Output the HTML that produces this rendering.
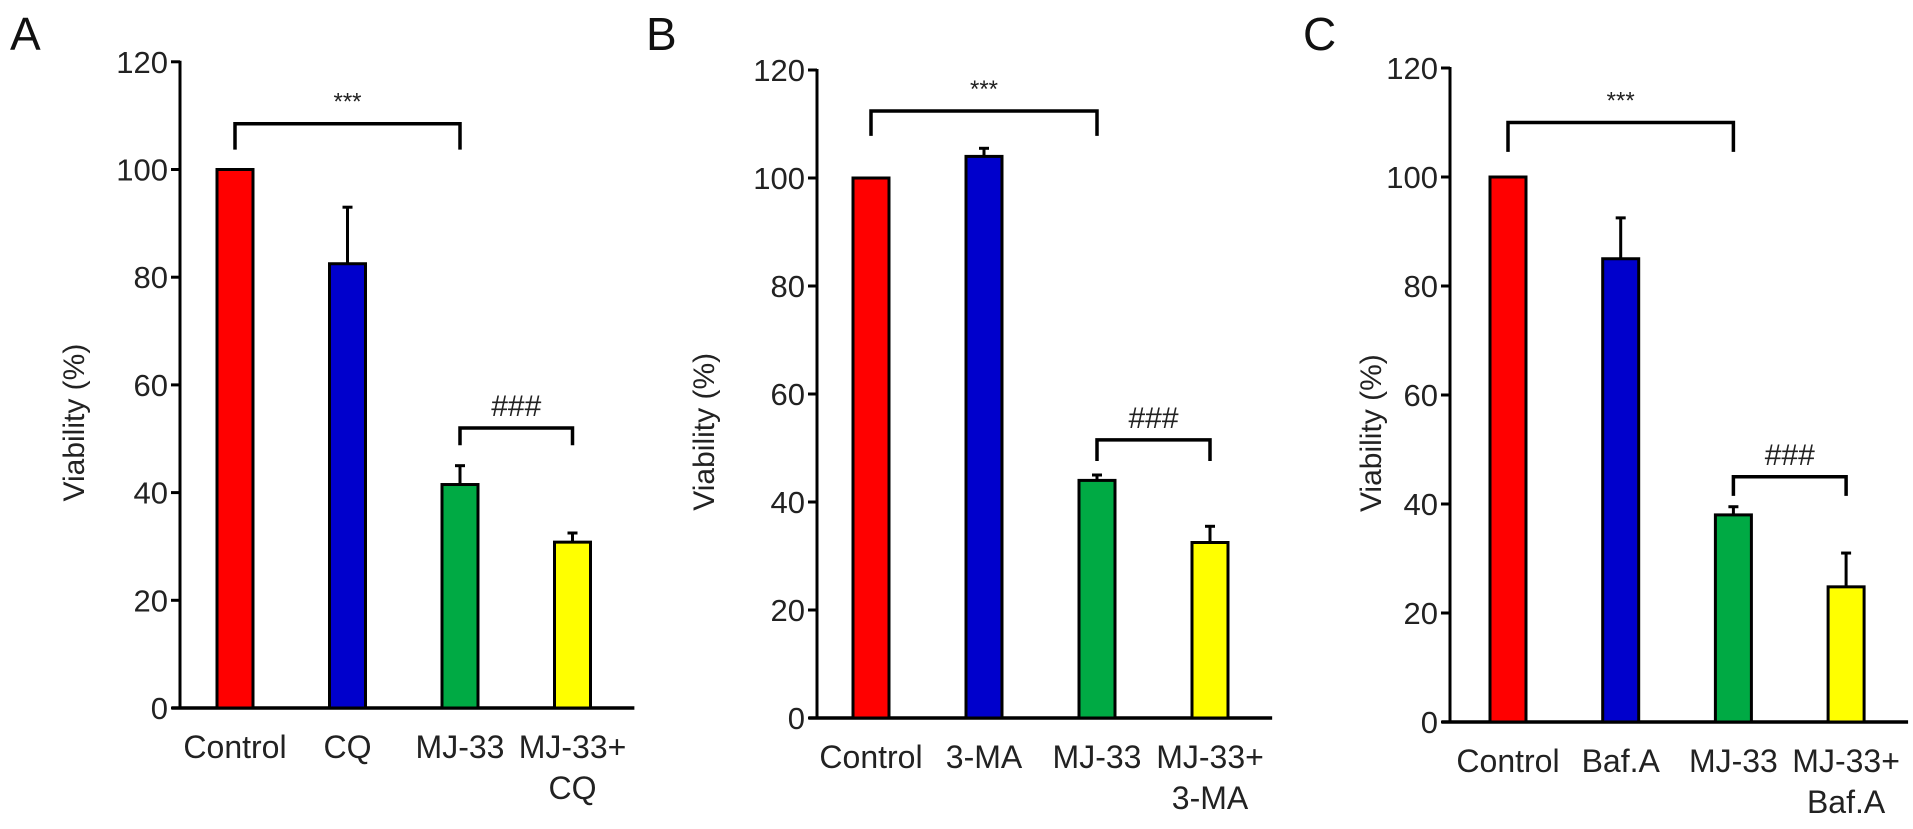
<!DOCTYPE html>
<html><head><meta charset="utf-8"><style>
html,body{margin:0;padding:0;background:#fff;}
svg{display:block;font-family:"Liberation Sans",Arial,sans-serif;}
</style></head><body>
<svg id="fig" width="1913" height="829" viewBox="0 0 1913 829"></svg>
<script>
const categoriesA = [["Control"],["CQ"],["MJ-33"],["MJ-33+","CQ"]];
const valuesA = [100, 82.5, 41.5, 30.8];
const errorsA = [0, 10.5, 3.5, 1.7];
const categoriesB = [["Control"],["3-MA"],["MJ-33"],["MJ-33+","3-MA"]];
const valuesB = [100, 104, 44, 32.5];
const errorsB = [0, 1.5, 1, 3];
const categoriesC = [["Control"],["Baf.A"],["MJ-33"],["MJ-33+","Baf.A"]];
const valuesC = [100, 85, 38, 24.8];
const errorsC = [0, 7.5, 1.5, 6.2];
const yTicks = [0, 20, 40, 60, 80, 100, 120];
const barColors = ["#ff0000", "#0000cc", "#00aa44", "#ffff00"];
const sigA = [{from:0,to:2,top:108.5,end:103.7,label:"***"},{from:2,to:3,top:52,end:48.8,label:"###"}];
const sigB = [{from:0,to:2,top:112.4,end:107.8,label:"***"},{from:2,to:3,top:51.5,end:47.6,label:"###"}];
const sigC = [{from:0,to:2,top:110,end:104.6,label:"***"},{from:2,to:3,top:45,end:41.5,label:"###"}];

const NS = "http://www.w3.org/2000/svg";
const svg = document.getElementById("fig");
function mk(tag, attrs, parent, text){
  const e = document.createElementNS(NS, tag);
  for (const k in attrs) e.setAttribute(k, attrs[k]);
  if (text !== undefined) e.textContent = text;
  (parent||svg).appendChild(e);
  return e;
}
function panel(cfg){
  const g = mk("g", {});
  
  
  const y = v => cfg.y0 - v * cfg.ppu;
  const x = i => cfg.x0 + i * cfg.step;
  const letter = mk("text", {x:cfg.lx, y:50, "font-size":46, fill:"#111"}, g, cfg.letter);
  
  
  const ax = mk("line", {x1:cfg.ax, y1:y(120)-1, x2:cfg.ax, y2:cfg.y0+1.5, stroke:"#000","stroke-width":3}, g);
  
  
  const xa = mk("line", {x1:cfg.ax-8, y1:cfg.y0, x2:x(3)+cfg.step*0.55, y2:cfg.y0, stroke:"#000","stroke-width":3.5}, g);
  
  
  yTicks.forEach(t => {
    const tk = mk("line", {x1:cfg.ax-9, y1:y(t), x2:cfg.ax, y2:y(t), stroke:"#000","stroke-width":3}, g);
    
    
    const tl = mk("text", {x:cfg.ax-12, y:y(t)+11, "font-size":31, "text-anchor":"end", fill:"#222"}, g, String(t));
    
    
  });
  const title = mk("text", {x:0, y:0, "font-size":30, "text-anchor":"middle", fill:"#222",
    transform:`translate(${cfg.tx},${y(53)}) rotate(-90)`}, g, "Viability (%)");
  
  
  const bw = 36;
  cfg.values.forEach((v, i) => {
    const cx = x(i);
    const e = cfg.errors[i];
    if (e > 0) {
      const el = mk("line", {x1:cx, y1:y(v), x2:cx, y2:y(v+e), stroke:"#000","stroke-width":3}, g);
      
      
      const cap = mk("line", {x1:cx-5, y1:y(v+e), x2:cx+5, y2:y(v+e), stroke:"#000","stroke-width":3}, g);
      
      
    }
    const r = mk("rect", {x:cx-bw/2, y:y(v), width:bw, height:cfg.y0-y(v), fill:barColors[i], stroke:"#000","stroke-width":3}, g);
    
    
    cfg.cats[i].forEach((line, k) => {
      const lt = mk("text", {x:cx, y:cfg.y0+50+k*41, "font-size":32, "text-anchor":"middle", fill:"#222"}, g, line);
      
      
    });
  });
  cfg.sig.forEach(s => {
    const x1 = x(s.from), x2 = x(s.to);
    const p = mk("path", {d:`M${x1},${y(s.end)} L${x1},${y(s.top)} L${x2},${y(s.top)} L${x2},${y(s.end)}`, fill:"none", stroke:"#000","stroke-width":3.5}, g);
    
    
    const isStar = s.label === "***";
    const st = mk("text", {x:(x1+x2)/2, y:y(s.top)-(isStar?14:12), "font-size":isStar?24:30, "text-anchor":"middle", fill:"#222"}, g, s.label);
    
    
  });
}
panel({letter:"A", lx:10, ax:180, x0:235, step:112.5, y0:708, ppu:5.385, tx:84, values:valuesA, errors:errorsA, cats:categoriesA, sig:sigA});
panel({letter:"B", lx:646, ax:817, x0:871, step:113, y0:718, ppu:5.4, tx:714, values:valuesB, errors:errorsB, cats:categoriesB, sig:sigB});
panel({letter:"C", lx:1303, ax:1450, x0:1508, step:112.7, y0:722, ppu:5.45, tx:1381, values:valuesC, errors:errorsC, cats:categoriesC, sig:sigC});
</script>
</body></html>
